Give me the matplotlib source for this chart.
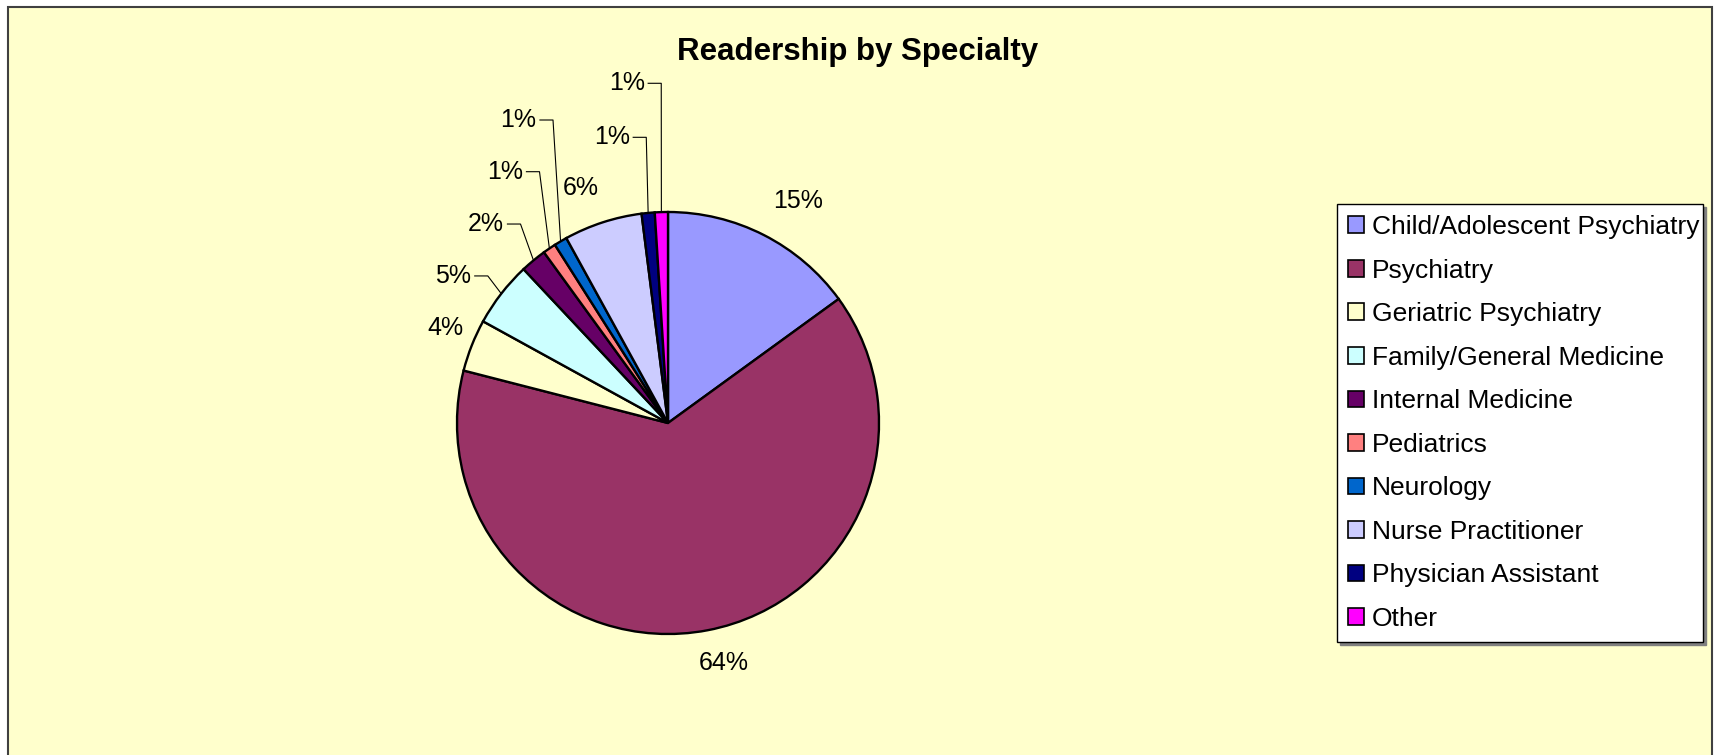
import numpy as np
import matplotlib
matplotlib.use("Agg")
import matplotlib.pyplot as plt
from matplotlib.patches import Rectangle

plt.rcParams['font.family'] = ['Liberation Sans', 'DejaVu Sans']

### Data
specialties = ["Child/Adolescent Psychiatry", "Psychiatry", "Geriatric Psychiatry",
               "Family/General Medicine", "Internal Medicine", "Pediatrics",
               "Neurology", "Nurse Practitioner", "Physician Assistant", "Other"]
shares = [15, 64, 4, 5, 2, 1, 1, 6, 1, 1]
colors = ["#9999FF", "#993366", "#FFFFCC", "#CCFFFF", "#660066",
          "#FF8080", "#0066CC", "#CCCCFF", "#000080", "#FF00FF"]

### Label layout (in pie radius units), leader = has a leader line
label_xy = [(0.616, 1.052), (0.262, -1.139), (-1.057, 0.450), (-1.018, 0.697),
            (-0.863, 0.943), (-0.773, 1.191), (-0.709, 1.436), (-0.412, 1.116),
            (-0.267, 1.354), (-0.196, 1.610)]
leader = [False, False, False, True, True, True, True, False, True, True]

W, H = 1714, 755
cx, cy, r = 668, 423, 211   # pie centre and radius in pixels

fig = plt.figure(figsize=(W / 100, H / 100), dpi=100)
fig.patch.set_facecolor("white")

# chart area background
fig.patches.append(Rectangle((8 / W, -0.1), (1712 - 8) / W, (H - 7) / H + 0.1,
                             transform=fig.transFigure, facecolor="#FFFFCC",
                             edgecolor="#404040", linewidth=1.5, zorder=-10))

ax = fig.add_axes([0, 0, 1, 1])
ax.set_facecolor("none")

wedges, _ = ax.pie(shares, colors=colors, startangle=90, counterclock=False,
                   radius=1, wedgeprops=dict(edgecolor="black", linewidth=1.7))

ax.set_aspect("auto")
ax.set_xlim(-cx / r, (W - cx) / r)
ax.set_ylim(-(H - cy) / r, cy / r)
ax.axis("off")

for w, val, (lx, ly), ld in zip(wedges, shares, label_xy, leader):
    ax.text(lx, ly, "%d%%" % val, fontsize=18, ha="center", va="center", color="black")
    if ld:
        mid = np.deg2rad((w.theta1 + w.theta2) / 2)
        x0 = lx + 0.102
        ax.plot([x0, x0 + 0.062, np.cos(mid)], [ly, ly, np.sin(mid)],
                color="black", linewidth=0.8)

fig.text(858 / W, 1 - 52 / H, "Readership by Specialty", fontsize=22.5,
         fontweight="bold", ha="center", va="center")

leg = ax.legend(wedges, specialties, loc="upper left",
                bbox_to_anchor=(1337 / W, (H - 641) / H, 366 / W, 437 / H),
                bbox_transform=fig.transFigure, mode="expand", borderaxespad=0,
                fontsize=19, handlelength=0.6, handleheight=0.6,
                handletextpad=0.3, labelspacing=0.74, borderpad=0.42,
                fancybox=False, frameon=True,
                shadow={"color": "#808080", "alpha": 1.0})
leg.get_frame().set_edgecolor("black")
leg.get_frame().set_linewidth(1.0)
leg.get_frame().set_facecolor("white")
for p in leg.get_patches():
    p.set_edgecolor("black")
    p.set_linewidth(1.2)

fig.savefig("out.png", dpi=100, facecolor=fig.get_facecolor())
